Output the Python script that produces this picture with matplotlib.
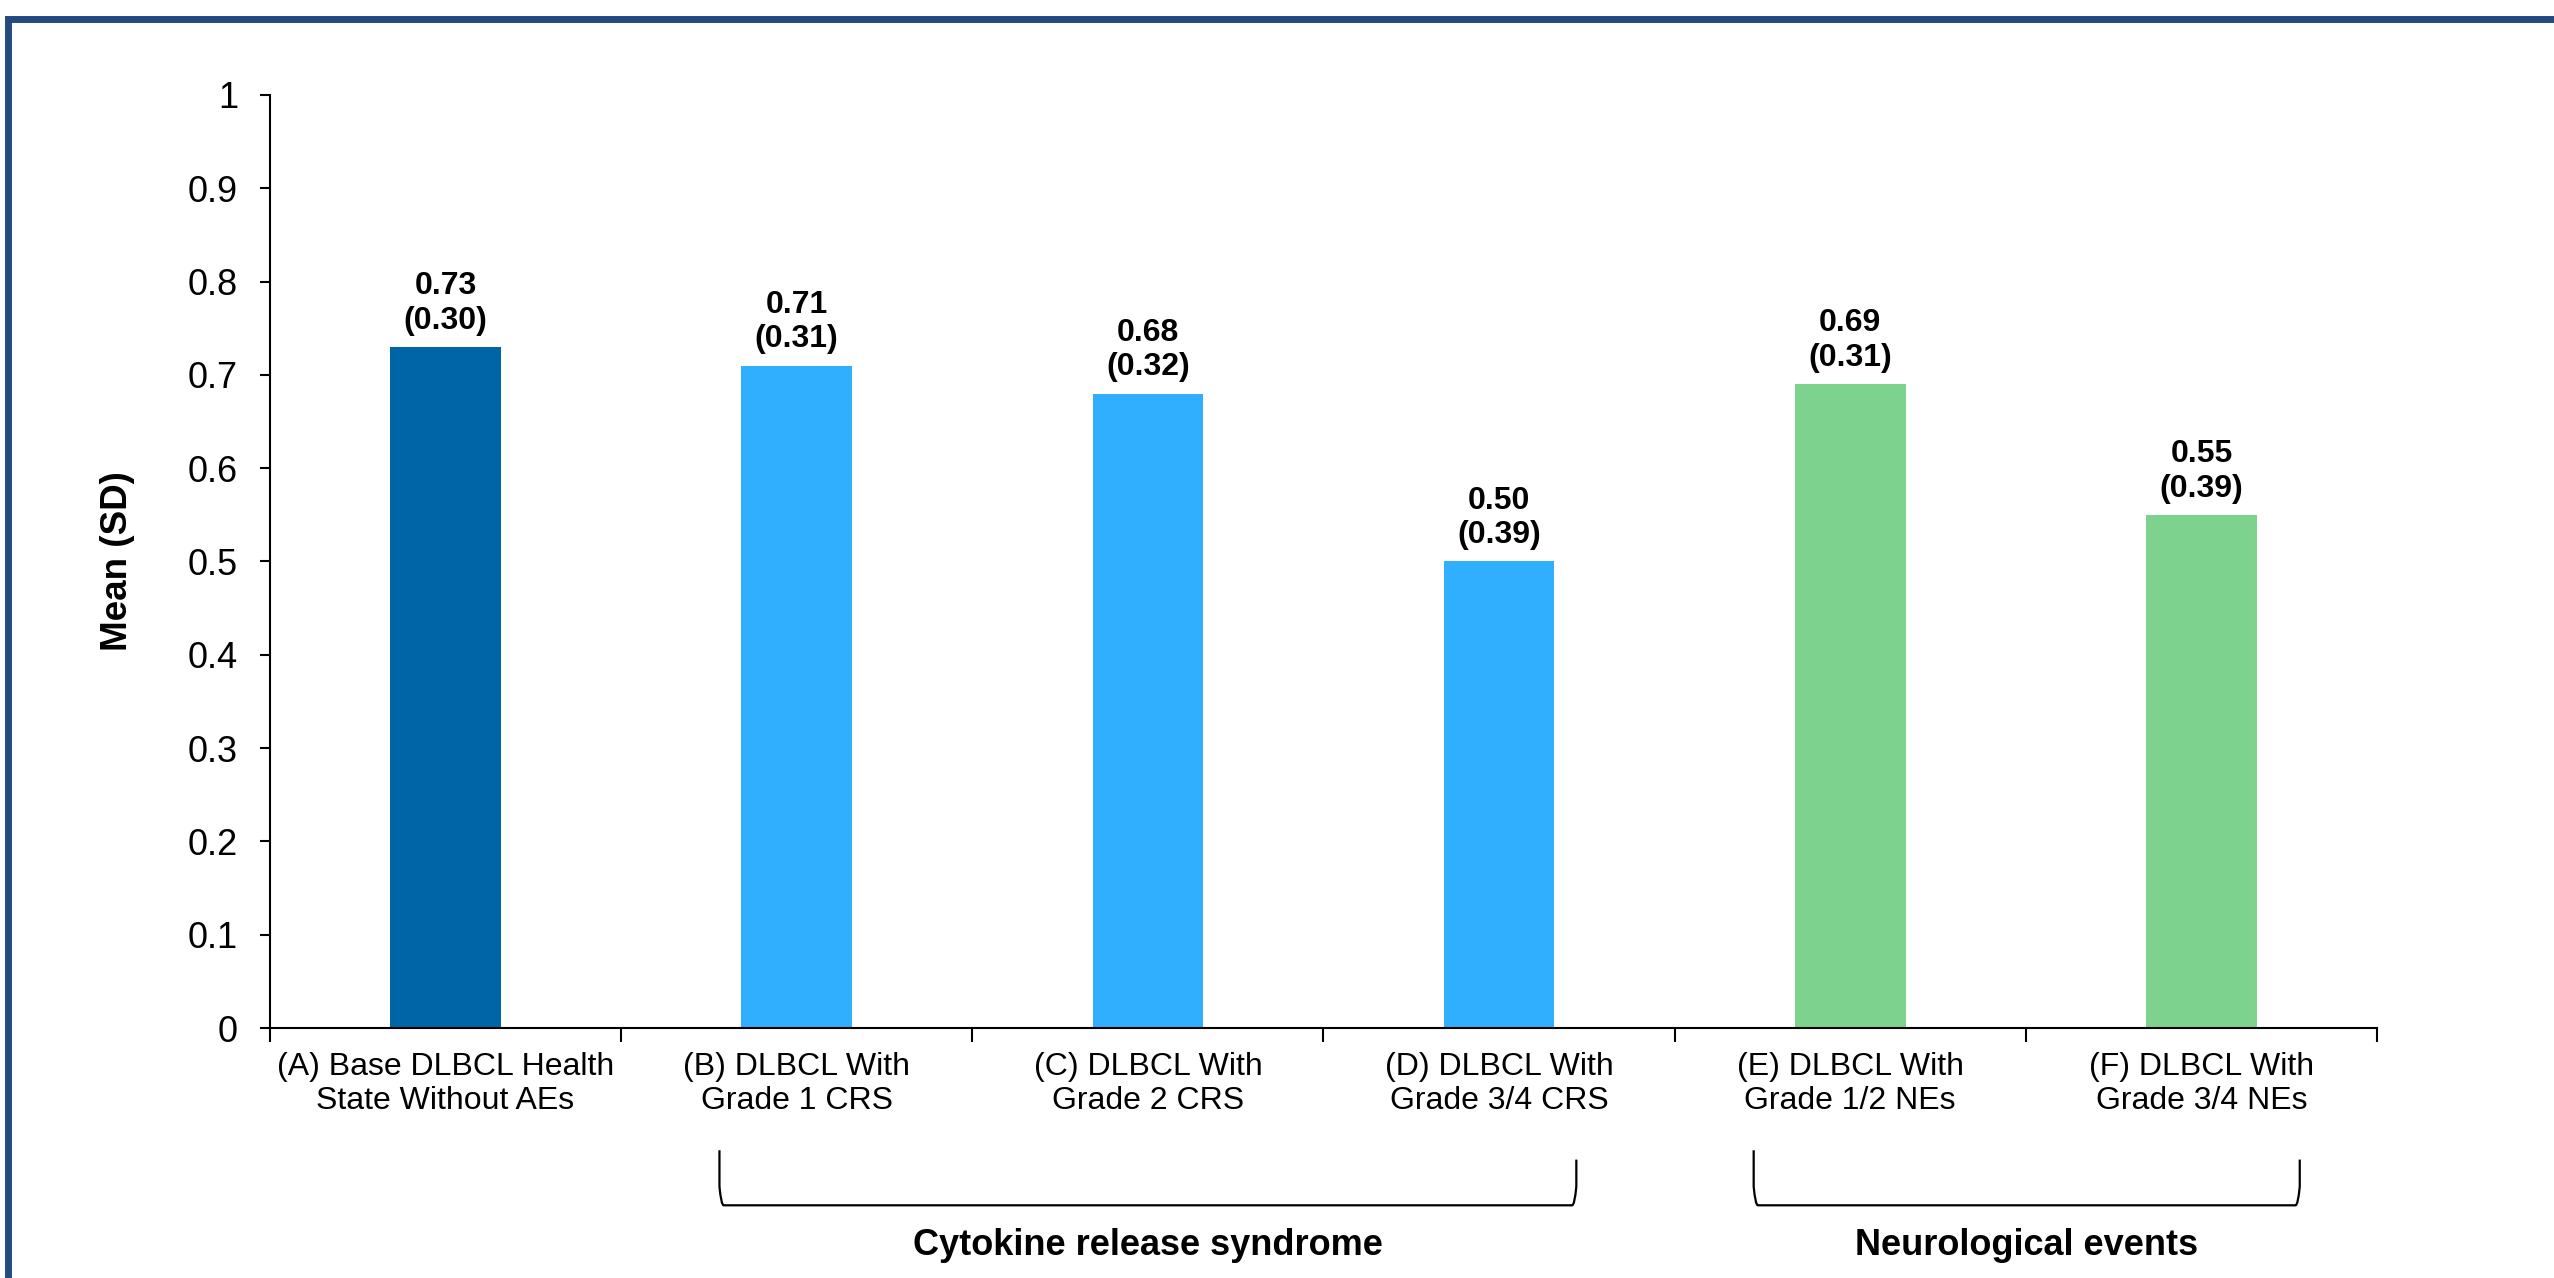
import matplotlib.pyplot as plt
from matplotlib.patches import Rectangle, PathPatch
from matplotlib.path import Path
from matplotlib.transforms import blended_transform_factory

plt.rcParams['font.family'] = ['Liberation Sans', 'DejaVu Sans']

# Health state utility values
categories = [
    "(A) Base DLBCL Health\nState Without AEs",
    "(B) DLBCL With\nGrade 1 CRS",
    "(C) DLBCL With\nGrade 2 CRS",
    "(D) DLBCL With\nGrade 3/4 CRS",
    "(E) DLBCL With\nGrade 1/2 NEs",
    "(F) DLBCL With\nGrade 3/4 NEs",
]
means = [0.73, 0.71, 0.68, 0.50, 0.69, 0.55]
sds = [0.30, 0.31, 0.32, 0.39, 0.31, 0.39]
groups = ["base", "crs", "crs", "crs", "ne", "ne"]

group_colors = {"base": "#0065A6", "crs": "#30AFFF", "ne": "#7DD38E"}

# bracketed groups: (label, first index, last index)
group_names = ["Cytokine release syndrome", "Neurological events"]
group_first = [1, 4]
group_last = [3, 5]

fig = plt.figure(figsize=(25.54, 12.78), dpi=100)
ax = fig.add_axes([0.1057, 0.1956, 0.8250, 0.7301])

x = [i + 0.5 for i in range(len(categories))]
colors = [group_colors[g] for g in groups]
bars = ax.bar(x, means, width=0.315, color=colors, zorder=2)

for xi, m, s in zip(x, means, sds):
    ax.annotate(f"{m:.2f}\n({s:.2f})", xy=(xi, m), xytext=(0, 8),
                textcoords="offset points", ha="center", va="bottom",
                fontsize=23, fontweight="bold", color="black")

ax.set_xlim(0, len(categories))
ax.set_ylim(0, 1)
ax.set_yticks([i / 10 for i in range(11)])
ax.set_yticklabels(["0"] + [f"{i / 10:.1f}" for i in range(1, 10)] + ["1"])

# boundary ticks without labels, category names centred between them
ax.set_xticks(range(len(categories) + 1))
ax.set_xticklabels([])
ax.set_xticks(x, minor=True)
ax.set_xticklabels(categories, minor=True, fontsize=23)
ax.tick_params(axis="x", which="minor", length=0, pad=17)
ax.tick_params(axis="x", which="major", length=10, width=1.5, direction="out")
ax.tick_params(axis="y", length=7, width=1.5, direction="out", pad=16, labelsize=26)

for side in ["top", "right"]:
    ax.spines[side].set_visible(False)
for side in ["left", "bottom"]:
    ax.spines[side].set_linewidth(1.5)

ax.set_ylabel("Mean (SD)", fontsize=26.5, fontweight="bold", labelpad=38)

# group brackets below the category labels
trans = blended_transform_factory(ax.transData, ax.transAxes)
insets = [(0.22, 0.22), (0.275, 0.28)]
for name, i0, i1, (li, ri) in zip(group_names, group_first, group_last, insets):
    x0 = x[i0] - li
    x1 = x[i1] + ri
    top_l, top_r, bot = -0.131, -0.141, -0.190
    r = 0.012
    verts = [(x0, top_l), (x0, bot + 0.02), (x0 + 0.005, bot), (x0 + r, bot),
             (x1 - r, bot), (x1 - 0.005, bot), (x1, bot + 0.02), (x1, top_r)]
    codes = [Path.MOVETO, Path.LINETO, Path.CURVE3, Path.CURVE3,
             Path.LINETO, Path.CURVE3, Path.CURVE3, Path.LINETO]
    ax.add_patch(PathPatch(Path(verts, codes), transform=trans, fill=False,
                           lw=1.6, edgecolor="black", clip_on=False))
    ax.text((x0 + x1) / 2, -0.233, name, transform=trans, ha="center",
            va="center", fontsize=26, fontweight="bold")

# dark blue frame
fig.add_artist(Rectangle((7.5 / 2554, -0.1), 1.2, 0.1 + 1 - 18.5 / 1278,
                         transform=fig.transFigure, fill=False,
                         edgecolor="#234B7F", linewidth=5))

fig.savefig("out.png", dpi=100)
